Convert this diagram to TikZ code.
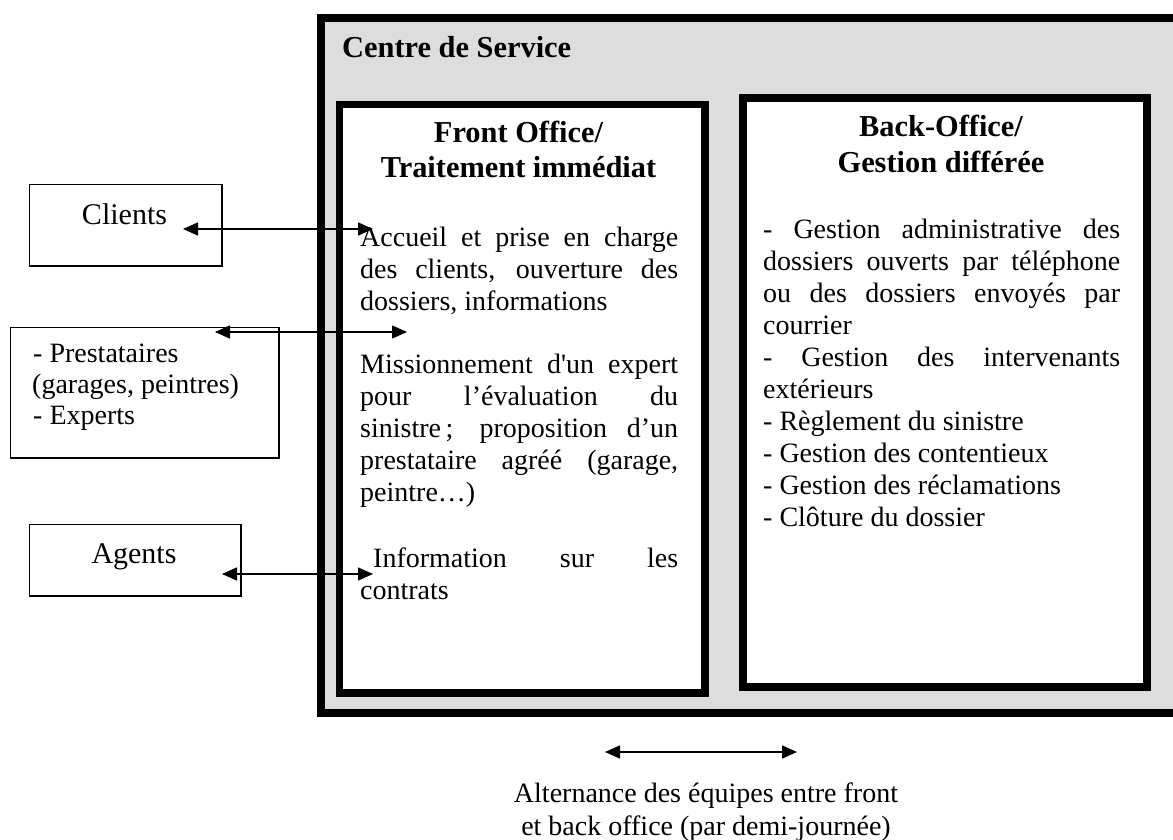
\documentclass[tikz,border=0pt]{standalone}
\usepackage{fontspec}
\setmainfont{Liberation Serif}[Ligatures=TeXOff]
\usetikzlibrary{arrows.meta}
\definecolor{panelgray}{RGB}{221,221,221}
\begin{document}
\begin{tikzpicture}[x=1pt,y=-1pt,
  thinbox/.style={draw=black, line width=1.4pt, inner sep=0pt, anchor=north west, fill=white},
  panel/.style={draw=black, fill=white, inner sep=0pt, anchor=north west},
  body/.style={font=\fontsize{28}{32}\selectfont, inner sep=0pt, anchor=base west},
  boxlabel/.style={font=\fontsize{30}{34}\selectfont, inner sep=0pt, anchor=base},
  title/.style={font=\bfseries\fontsize{30.4}{35}\selectfont, inner sep=0pt, anchor=base},
  biarrow/.style={line width=1.6pt, {Triangle[length=15pt,width=13pt]}-{Triangle[length=15pt,width=13pt]}}
]
\useasboundingbox (0,0) rectangle (1173,840);
\clip (0,0) rectangle (1173,840);

% outer service centre
\node[panel, fill=panelgray, line width=8pt, minimum width=900, minimum height=695] (centre) at (317,14) {};
\node[title, anchor=base west] (centreT) at (342,58) {Centre de Service};

% front office
\node[panel, line width=7.5pt, minimum width=365.5, minimum height=588.5] (front) at (335.75,100.75) {};
\node[title] (frontT1) at (518.5,143) {Front Office/};
\node[title] (frontT2) at (518.5,178) {Traitement immédiat};

\node[body] (f1) at (360,246) {\makebox[318pt][s]{Accueil et prise en charge}};
\node[body] (f2) at (360,278) {\makebox[318pt][s]{des clients, ouverture des}};
\node[body] (f3) at (360,310) {dossiers, informations};
\node[body] (f4) at (360,373) {\makebox[318pt][s]{Missionnement d'un expert}};
\node[body] (f5) at (360,405) {\makebox[318pt][s]{pour l’évaluation du}};
\node[body] (f6) at (360,437) {\makebox[318pt][s]{sinistre\,; proposition d’un}};
\node[body] (f7) at (360,469) {\makebox[318pt][s]{prestataire agréé (garage,}};
\node[body] (f8) at (360,501) {peintre…)};
\node[body] (f9) at (360,567) {\makebox[318pt][s]{\hspace*{13pt}Information sur les}};
\node[body] (f10) at (360,599) {contrats};

% back office
\node[panel, line width=8pt, minimum width=404, minimum height=589] (back) at (739,94) {};
\node[title] (backT1) at (941,137) {Back-Office/};
\node[title] (backT2) at (941,172) {Gestion différée};

\node[body] (b1) at (763,238) {\makebox[357pt][s]{- Gestion administrative des}};
\node[body] (b2) at (763,270) {\makebox[357pt][s]{dossiers ouverts par téléphone}};
\node[body] (b3) at (763,302) {\makebox[357pt][s]{ou des dossiers envoyés par}};
\node[body] (b4) at (763,334) {courrier};
\node[body] (b5) at (763,366) {\makebox[357pt][s]{- Gestion des intervenants}};
\node[body] (b6) at (763,398) {extérieurs};
\node[body] (b7) at (763,430) {- Règlement du sinistre};
\node[body] (b8) at (763,462) {- Gestion des contentieux};
\node[body] (b9) at (763,494) {- Gestion des réclamations};
\node[body] (b10) at (763,526) {- Clôture du dossier};

% external actors
\node[thinbox, minimum width=192.6, minimum height=81.6] (clients) at (28.7,183.7) {};
\node[boxlabel] (clientsT) at (124.5,224) {Clients};

\node[thinbox, minimum width=268.6, minimum height=130.6] (prest) at (9.7,326.7) {};
\node[body] (prestT1) at (33,362) {- Prestataires};
\node[body] (prestT2) at (32,393) {(garages, peintres)};
\node[body] (prestT3) at (33,424) {- Experts};

\node[thinbox, minimum width=211.6, minimum height=71.6] (agents) at (28.7,523.7) {};
\node[boxlabel] (agentsT) at (134,563) {Agents};

% caption (two lines, placed line by line)
\node[body, anchor=base] (alt1) at (706,802) {Alternance des équipes entre front};
\node[body, anchor=base] (alt2) at (706,835) {et back office (par demi-journée)};

% connectors
\coordinate (cliA) at (183,229);
\coordinate (cliB) at (373,229);
\coordinate (preA) at (215,332);
\coordinate (preB) at (407,332);
\coordinate (ageA) at (222,574);
\coordinate (ageB) at (373,574);
\coordinate (altA) at (605,752);
\coordinate (altB) at (797,752);
\draw[biarrow] (cliA) -- (cliB);
\draw[biarrow] (preA) -- (preB);
\draw[biarrow] (ageA) -- (ageB);
\draw[biarrow] (altA) -- (altB);
\end{tikzpicture}
\end{document}
